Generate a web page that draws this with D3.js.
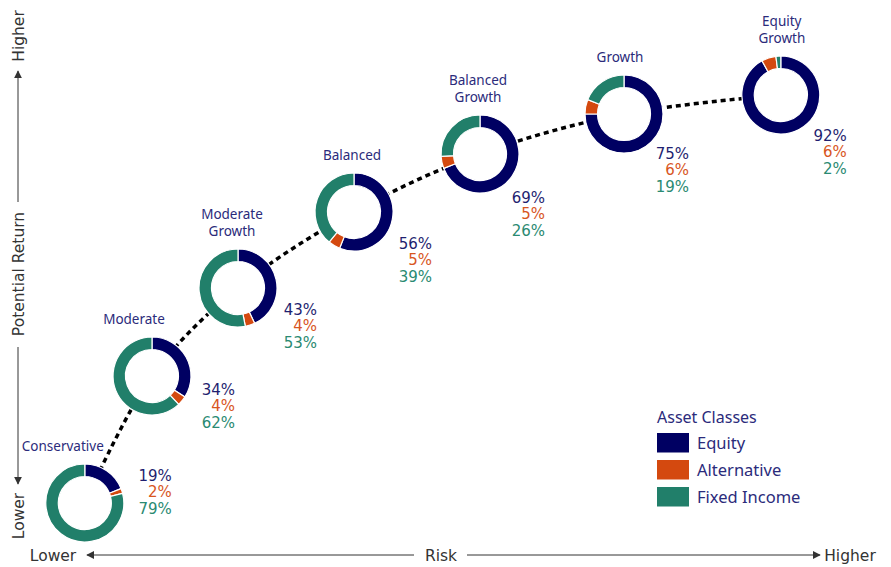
<!DOCTYPE html>
<html>
<head>
<meta charset="utf-8">
<script src="https://cdn.jsdelivr.net/npm/d3@7"></script>
<style>
  html, body { margin: 0; padding: 0; background: #fff; }
  svg { display: block; }
</style>
</head>
<body>
<div id="chart"></div>
<script>
// Portfolio data
const categories = ["Conservative", "Moderate", "Moderate Growth", "Balanced", "Balanced Growth", "Growth", "Equity Growth"];
const equity = [19, 34, 43, 56, 69, 75, 92];
const alternative = [2, 4, 4, 5, 5, 6, 6];
const fixedIncome = [79, 62, 53, 39, 26, 19, 2];
// position on the (unlabelled) risk / return axes, 0-100
const riskScore = [5.6, 14, 24.75, 39.25, 55, 73, 92.6];
const returnScore = [7.4, 32.8, 50.4, 65.6, 77.2, 85.2, 89];
const assetClasses = ["Equity", "Alternative", "Fixed Income"];

// layout tweaks for the labels (pixels)
const nameShift = [-22, -18, -6, -2, -2, -4, 1];
const pctShift = [[87, -28], [83, 13], [79, 21], [78, 31], [65, 43], [65, 39], [66, 40]];

const width = 891, height = 567;
const color = d3.scaleOrdinal().domain(assetClasses).range(["#000062", "#D4490F", "#217F6A"]);
const textColor = d3.scaleOrdinal().domain(assetClasses).range(["#1f1f70", "#d8561e", "#2a8a72"]);
const axisColor = "#333";
const navyText = "#2b2b7b";

const svg = d3.select("#chart").append("svg")
    .attr("width", width).attr("height", height);

const x = d3.scaleLinear().domain([0, 100]).range([40, 840]);
const y = d3.scaleLinear().domain([0, 100]).range([540, 40]);

const data = categories.map((c, i) => ({
    name: c,
    values: [equity[i], alternative[i], fixedIncome[i]],
    cx: x(riskScore[i]),
    cy: y(returnScore[i]),
    i: i
}));

// arrow marker
svg.append("defs").append("marker")
    .attr("id", "arrow")
    .attr("viewBox", "0 0 10 10")
    .attr("refX", 9).attr("refY", 5)
    .attr("markerWidth", 8).attr("markerHeight", 8)
    .attr("markerUnits", "userSpaceOnUse")
    .attr("orient", "auto")
    .append("path").attr("d", "M0,0L10,5L0,10Z").attr("fill", axisColor);

// 1. Axes (arrows)
const axisFont = "'DejaVu Sans', Verdana, sans-serif";
const ax = 18, ay = 555;

// vertical
svg.append("line").attr("x1", ax).attr("x2", ax).attr("y1", 202).attr("y2", 71)
    .attr("stroke", axisColor).attr("stroke-width", 1).attr("marker-end", "url(#arrow)");
svg.append("line").attr("x1", ax).attr("x2", ax).attr("y1", 347).attr("y2", 484)
    .attr("stroke", axisColor).attr("stroke-width", 1).attr("marker-end", "url(#arrow)");
[["Higher", 36], ["Potential Return", 274], ["Lower", 516]].forEach(([t, cy]) => {
    svg.append("text")
        .attr("transform", `translate(${ax + 5.5},${cy}) rotate(-90)`)
        .attr("text-anchor", "middle")
        .style("font-family", axisFont).style("font-size", "15.5px").attr("fill", axisColor)
        .text(t);
});

// horizontal
svg.append("line").attr("x1", 414).attr("x2", 87).attr("y1", ay).attr("y2", ay)
    .attr("stroke", axisColor).attr("stroke-width", 1).attr("marker-end", "url(#arrow)");
svg.append("line").attr("x1", 467).attr("x2", 820).attr("y1", ay).attr("y2", ay)
    .attr("stroke", axisColor).attr("stroke-width", 1).attr("marker-end", "url(#arrow)");
[["Lower", 53], ["Risk", 441], ["Higher", 850]].forEach(([t, cx]) => {
    svg.append("text")
        .attr("x", cx).attr("y", ay + 5.5)
        .attr("text-anchor", "middle")
        .style("font-family", axisFont).style("font-size", "15.5px").attr("fill", axisColor)
        .text(t);
});

// 2. Dotted path through the portfolios
const line = d3.line().x(d => d.cx).y(d => d.cy).curve(d3.curveCatmullRom.alpha(0.5));
svg.append("path")
    .datum(data)
    .attr("d", line)
    .attr("fill", "none")
    .attr("stroke", "#000")
    .attr("stroke-width", 3.5)
    .attr("stroke-dasharray", "5,4");

// 3. Donuts
const outerR = 39, innerR = 26.5;
const pie = d3.pie().sort(null);
const arc = d3.arc().innerRadius(innerR).outerRadius(outerR);

const donuts = svg.selectAll(".donut")
    .data(data)
    .enter().append("g")
    .attr("class", "donut")
    .attr("transform", d => `translate(${d.cx},${d.cy})`);

donuts.append("circle").attr("r", outerR).attr("fill", "#fff");

donuts.selectAll("path")
    .data(d => pie(d.values))
    .enter().append("path")
    .attr("d", arc)
    .attr("fill", (d, k) => color(assetClasses[k]))
    .attr("stroke", "#fff")
    .attr("stroke-width", 1.2);

// portfolio names
const nameFont = "'Noto Sans', 'Open Sans', sans-serif";
donuts.each(function (d) {
    const words = d.name.split(" ");
    const g = d3.select(this);
    words.forEach((w, k) => {
        g.append("text")
            .attr("x", nameShift[d.i])
            .attr("y", -52 - (words.length - 1 - k) * 17)
            .attr("text-anchor", "middle")
            .style("font-family", nameFont).style("font-size", "13.5px")
            .attr("fill", navyText)
            .text(w);
    });
    // percentages
    d.values.forEach((v, k) => {
        g.append("text")
            .attr("x", pctShift[d.i][0])
            .attr("y", pctShift[d.i][1] + 5.5 + k * 16.5)
            .attr("text-anchor", "end")
            .style("font-family", axisFont).style("font-size", "15px")
            .attr("fill", textColor(assetClasses[k]))
            .text(v + "%");
    });
});

// 4. Legend
const legend = svg.append("g").attr("transform", "translate(657,417)");
legend.append("text")
    .attr("x", 0).attr("y", 5.5)
    .style("font-family", nameFont).style("font-size", "16px")
    .attr("fill", navyText)
    .text("Asset Classes");

assetClasses.forEach((c, k) => {
    legend.append("rect")
        .attr("x", 0).attr("y", 16 + k * 27)
        .attr("width", 32).attr("height", 19.5)
        .attr("fill", color(c));
    legend.append("text")
        .attr("x", 40).attr("y", 26 + k * 27 + 5.5)
        .style("font-family", nameFont).style("font-size", "16.5px")
        .attr("fill", navyText)
        .text(c);
});
</script>
</body>
</html>
